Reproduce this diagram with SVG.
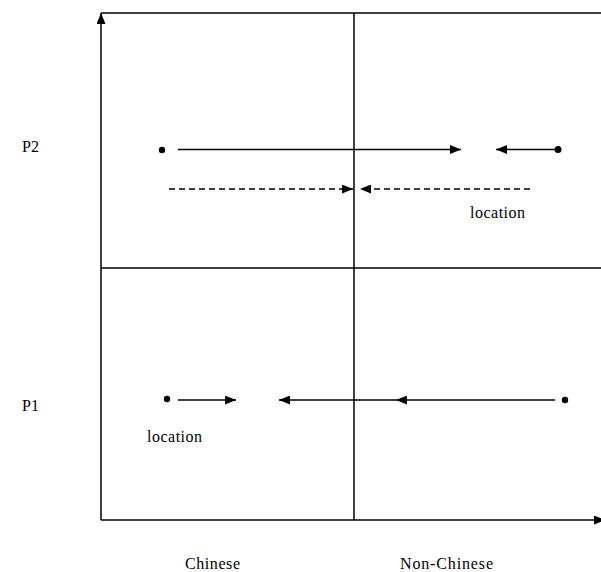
<svg xmlns="http://www.w3.org/2000/svg" width="601" height="572" viewBox="0 0 601 572">
<style>
.ln{stroke:#000;stroke-width:1.5;fill:none}
.ds{stroke:#000;stroke-width:1.5;fill:none;stroke-dasharray:6,4}
text{font-family:'Liberation Serif','DejaVu Serif','Times New Roman',serif;font-size:16px;fill:#000}
</style>
<defs>
<marker id="ah" viewBox="0 0 11 9" refX="11" refY="4.5" markerWidth="11" markerHeight="9" markerUnits="userSpaceOnUse" orient="auto">
<path d="M0,0L11,4.5L0,9z" fill="#000"/>
</marker>
</defs>
<rect width="601" height="572" fill="#fff"/>
<g id="frame">
<line class="ln" x1="101" y1="13" x2="601" y2="13"/>
<line class="ln" x1="354" y1="13" x2="354" y2="520"/>
<line class="ln" x1="101" y1="268" x2="601" y2="268"/>
</g>
<g id="axes">
<line class="ln" x1="101" y1="520" x2="101" y2="13" marker-end="url(#ah)"/>
<line class="ln" x1="101" y1="520" x2="605" y2="520" marker-end="url(#ah)"/>
</g>
<g id="labels">
<text x="22" y="152">P2</text>
<text x="22" y="411">P1</text>
<text x="185" y="569" textLength="55" lengthAdjust="spacing">Chinese</text>
<text x="400" y="569" textLength="93" lengthAdjust="spacing">Non-Chinese</text>
<text x="470" y="218" textLength="55" lengthAdjust="spacing">location</text>
<text x="147" y="442" textLength="55" lengthAdjust="spacing">location</text>
</g>
<g id="points">
<circle cx="162" cy="150" r="3.2"/>
<circle cx="558" cy="149.5" r="3.5"/>
<circle cx="167" cy="399" r="3.2"/>
<circle cx="565" cy="400" r="3.2"/>
</g>
<g id="connectors">
<line class="ln" x1="178" y1="149.5" x2="461" y2="149.5" marker-end="url(#ah)"/>
<line class="ln" x1="556" y1="149.5" x2="496" y2="149.5" marker-end="url(#ah)"/>
<line class="ds" x1="169" y1="189" x2="353" y2="189" marker-end="url(#ah)"/>
<line class="ds" x1="530" y1="189" x2="360" y2="189" marker-end="url(#ah)"/>
<line class="ln" x1="178" y1="400" x2="236" y2="400" marker-end="url(#ah)"/>
<line class="ln" x1="555" y1="400" x2="396" y2="400" marker-end="url(#ah)"/>
<line class="ln" x1="396" y1="400" x2="279" y2="400" marker-end="url(#ah)"/>
</g>
</svg>
